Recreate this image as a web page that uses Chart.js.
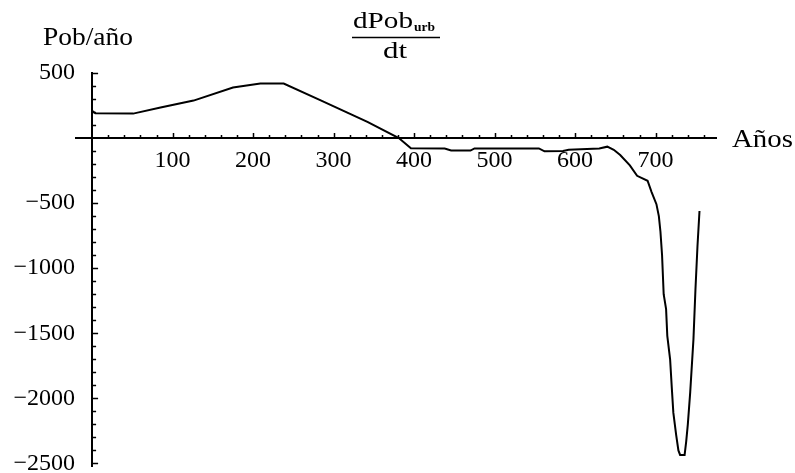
<!DOCTYPE html>
<html>
<head>
<meta charset="utf-8">
<script src="https://cdn.jsdelivr.net/npm/chart.js@4/dist/chart.umd.min.js"></script>
<style>
  html, body { margin: 0; padding: 0; background: #ffffff; }
  #wrap { width: 795px; height: 473px; }
  canvas { display: block; }
</style>
</head>
<body>
<div id="wrap"><canvas id="c" width="795" height="473"></canvas></div>
<script>
// ---- data ----
const years = [0, 4, 51, 85, 126, 175, 209, 238, 284, 342,
               381, 396, 438, 446, 470, 475, 555, 562, 585, 592,
               630, 640, 648, 656, 668, 677, 690, 695, 701, 704,
               706, 708, 710, 713, 714.5, 718, 720, 722, 725.5, 728.3,
               730.4, 736, 738, 740, 743, 747, 749.5, 752, 754.5];
const rates = [210, 190, 188, 235, 288, 388, 419, 419, 290, 125,
               0, -78, -80, -96, -96, -80, -80, -102, -100, -90,
               -80, -66, -90, -130, -210, -290, -328, -415, -508, -600,
               -720, -900, -1200, -1315, -1520, -1700, -1910, -2110, -2280, -2400,
               -2435, -2435, -2330, -2200, -1950, -1545, -1160, -830, -560];
const xTickLabels = [100, 200, 300, 400, 500, 600, 700];
const yTickLabels = [500, -500, -1000, -1500, -2000, -2500];
const yAxisTitle = 'Pob/año';
const xAxisTitle = 'Años';
const titleNum = 'dPob';
const titleSub = 'urb';
const titleDen = 'dt';

const SERIF = '"Liberation Serif", "Times New Roman", serif';

function drawStretched(ctx, text, x, y, font, targetWidth, align) {
  ctx.save();
  ctx.font = font;
  const w = ctx.measureText(text).width;
  const s = targetWidth ? targetWidth / w : 1;
  ctx.textBaseline = 'alphabetic';
  ctx.textAlign = 'left';
  let left = x;
  if (align === 'center') left = x - (w * s) / 2;
  ctx.translate(left, y);
  ctx.scale(s, 1);
  ctx.fillStyle = '#000';
  ctx.fillText(text, 0, 0);
  ctx.restore();
}

function noPad(s) {
  s.paddingTop = 0; s.paddingBottom = 0; s.paddingLeft = 0; s.paddingRight = 0;
}

const decor = {
  id: 'decor',
  afterDraw(chart) {
    const ctx = chart.ctx;
    const xs = chart.scales.x, ys = chart.scales.y;
    const x0 = xs.getPixelForValue(0);
    const y0 = ys.getPixelForValue(0);
    ctx.save();
    ctx.strokeStyle = '#000';
    ctx.lineWidth = 1.5;
    ctx.beginPath();
    xs.ticks.forEach(t => {
      if (t.value <= 0) return;
      const px = Math.round(xs.getPixelForValue(t.value)) + 0.5;
      const len = (t.value % 100 === 0) ? 5 : 3;
      ctx.moveTo(px, y0);
      ctx.lineTo(px, y0 - len);
    });
    ys.ticks.forEach(t => {
      if (t.value === 0) return;
      const py = Math.round(ys.getPixelForValue(t.value)) + 0.5;
      const len = (t.value % 500 === 0) ? 6 : 4;
      ctx.moveTo(x0, py);
      ctx.lineTo(x0 + len, py);
    });
    ctx.stroke();

    // axis titles
    drawStretched(ctx, yAxisTitle, 43, 45, '25px ' + SERIF, 90);
    drawStretched(ctx, xAxisTitle, 732, 147, '25px ' + SERIF, 61);

    // fraction title
    drawStretched(ctx, titleNum, 353, 28, '23px ' + SERIF, 60);
    drawStretched(ctx, titleSub, 414, 31, 'bold 12px ' + SERIF, 21);
    ctx.lineWidth = 1.5;
    ctx.beginPath();
    ctx.moveTo(352, 37.5);
    ctx.lineTo(440, 37.5);
    ctx.stroke();
    drawStretched(ctx, titleDen, 395, 58, '23px ' + SERIF, 24, 'center');
    ctx.restore();
  }
};

const labelFont = { family: SERIF, size: 24 };

new Chart(document.getElementById('c').getContext('2d'), {
  type: 'scatter',
  data: {
    datasets: [{
      data: years.map((x, i) => ({ x: x, y: rates[i] })),
      showLine: true,
      borderColor: '#000000',
      borderWidth: 2,
      pointRadius: 0,
      fill: false,
      tension: 0
    }]
  },
  options: {
    responsive: false,
    animation: false,
    devicePixelRatio: 1,
    layout: { padding: { left: 0, right: 79, top: 73, bottom: 7 } },
    plugins: { legend: { display: false }, tooltip: { enabled: false }, title: { display: false } },
    scales: {
      x: {
        type: 'linear',
        min: -20, max: 775,
        position: { y: 0 },
        afterFit: noPad,
        grid: { display: false, drawTicks: false },
        border: { display: true, color: '#000', width: 2 },
        ticks: {
          stepSize: 20, autoSkip: false, includeBounds: false, maxRotation: 0,
          padding: 8, color: '#000', font: labelFont,
          callback: v => xTickLabels.includes(v) ? String(v) : ''
        }
      },
      y: {
        type: 'linear',
        min: -2520, max: 500,
        position: { x: 0 },
        afterFit: noPad,
        grid: { display: false, drawTicks: false },
        border: { display: true, color: '#000', width: 2 },
        ticks: { stepSize: 100, autoSkip: false, includeBounds: false, display: false }
      },
      yLabels: {
        type: 'linear',
        min: -2520, max: 500,
        position: 'left',
        grid: { display: false, drawTicks: false },
        border: { display: false },
        afterFit: s => { s.width = 76; noPad(s); },
        ticks: {
          stepSize: 100, autoSkip: false, includeBounds: false,
          padding: 1, color: '#000', font: labelFont,
          callback: v => yTickLabels.includes(v) ? (v < 0 ? '\u2212' + Math.abs(v) : String(v)) : ''
        }
      }
    }
  },
  plugins: [decor]
});
</script>
</body>
</html>
